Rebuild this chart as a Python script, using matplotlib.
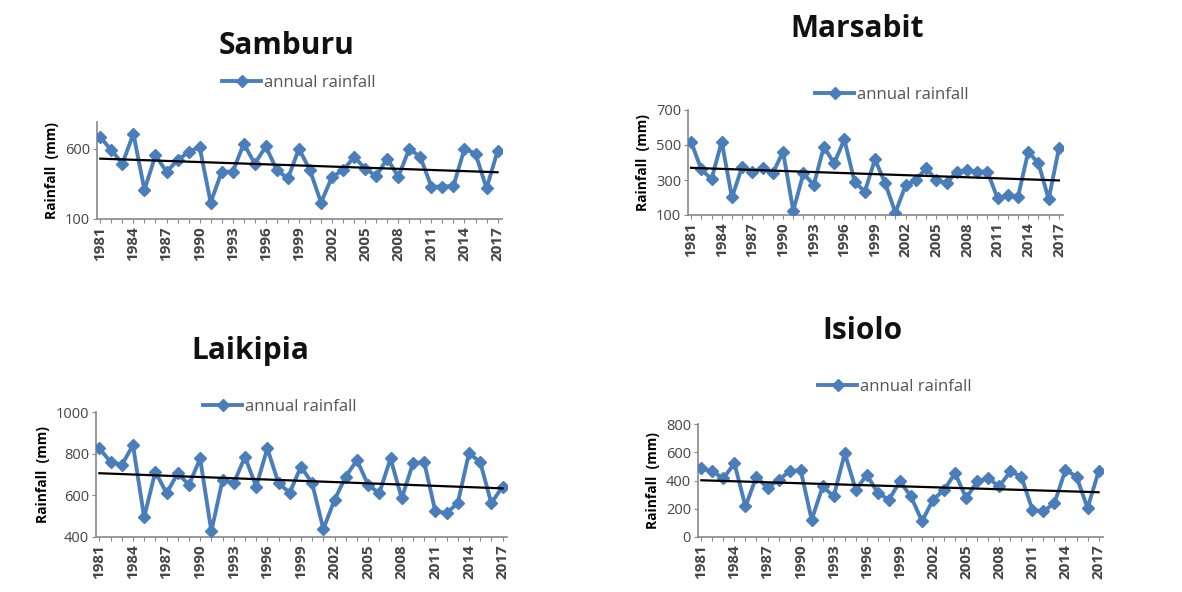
import numpy as np
import matplotlib
matplotlib.use("Agg")
import matplotlib.pyplot as plt

plt.rcParams['font.family'] = ['Open Sans', 'DejaVu Sans']

years = list(range(1981, 2018))

samburu = [682, 590, 494, 706, 307, 553, 436, 518, 577, 612, 217, 436, 436,
           635, 494, 616, 447, 389, 600, 447, 217, 400, 447, 541, 459, 405,
           530, 400, 600, 541, 330, 330, 335, 600, 565, 318, 584]
marsabit = [519, 360, 305, 519, 200, 376, 348, 367, 338, 462, 125, 338, 271,
            490, 395, 532, 290, 233, 418, 281, 113, 271, 300, 367, 300, 281,
            348, 357, 348, 348, 195, 214, 205, 462, 395, 190, 481]
laikipia = [825, 761, 745, 841, 495, 714, 610, 706, 650, 777, 427, 674, 658,
            785, 642, 825, 658, 613, 738, 658, 438, 578, 690, 769, 650, 610,
            777, 586, 753, 761, 523, 515, 562, 801, 761, 562, 642]
isiolo = [487, 464, 415, 522, 216, 428, 346, 405, 464, 475, 122, 358, 287,
          593, 334, 440, 311, 264, 393, 287, 111, 264, 334, 452, 275, 393,
          416, 358, 464, 428, 193, 181, 240, 475, 428, 205, 464]

W, H = 1182, 592
BLUE = '#4a7ebb'
AXC = '#888888'

# name, data, axes box (px: left, top, right, bottom), ylim, yticks, title pos, legend pos
panels = [
    ("Samburu", samburu, (97, 122, 502, 219), (100, 790), [100, 600], (287, 46), (299, 83)),
    ("Marsabit", marsabit, (688, 110, 1063, 215), (100, 700), [100, 300, 500, 700], (857, 29), (892, 95)),
    ("Laikipia", laikipia, (96, 412, 507, 537), (400, 1000), [400, 600, 800, 1000], (250, 351), (280, 407)),
    ("Isiolo", isiolo, (698, 424, 1103, 537), (0, 800), [0, 200, 400, 600, 800], (862, 331), (895, 387)),
]

fig = plt.figure(figsize=(W / 100, H / 100), dpi=100)

for name, vals, (l, t, r, b), ylim, yticks, (tx, ty), (lx, ly) in panels:
    ax = fig.add_axes([l / W, 1 - b / H, (r - l) / W, (b - t) / H])
    ax.plot(years, vals, color=BLUE, lw=2.8, marker='D', ms=6,
            label='annual rainfall', zorder=3)
    k, c = np.polyfit(years, vals, 1)
    ax.plot(years, np.polyval([k, c], years), color='black', lw=1.6, zorder=4)
    ax.set_xlim(1980.7, 2017.4)
    ax.set_ylim(*ylim)
    ax.set_yticks(yticks)
    ax.set_xticks(years)
    ax.set_xticklabels([str(y) if (y - 1981) % 3 == 0 else '' for y in years],
                       rotation=90, fontsize=11, fontweight='bold', color='#444444')
    ax.tick_params(axis='x', length=3, color=AXC, pad=2)
    ax.tick_params(axis='y', length=3, color=AXC, labelsize=10.5, labelcolor='#444444', pad=2)
    for s in ('top', 'right'):
        ax.spines[s].set_visible(False)
    for s in ('left', 'bottom'):
        ax.spines[s].set_color(AXC)
        ax.spines[s].set_linewidth(1.2)
    ax.set_ylabel('Rainfall  (mm)', fontsize=10, fontweight='bold', labelpad=4)
    fig.text(tx / W, 1 - ty / H, name, fontsize=21.5, fontweight='bold',
             ha='center', va='center', color='#111111')
    ax.legend(loc='center', bbox_to_anchor=(lx / W, 1 - ly / H),
              bbox_transform=fig.transFigure, frameon=False, fontsize=12,
              handlelength=2.3, handletextpad=0.2, labelcolor='#555555')

fig.savefig('out.png', dpi=100)
